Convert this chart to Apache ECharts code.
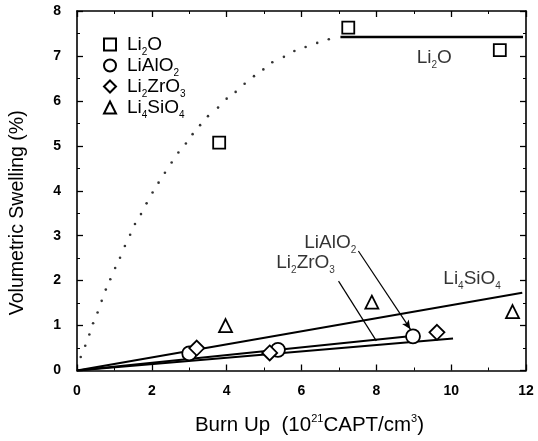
<!DOCTYPE html>
<html><head><meta charset="utf-8">
<script src="https://cdn.jsdelivr.net/npm/echarts@6/dist/echarts.min.js"></script>
<style>html,body{margin:0;padding:0;background:#fff}#c{width:538px;height:441px}</style>
</head><body><div id="c"></div>
<script>
// ---- data ----
const li2O = [[3.8, 5.07], [7.25, 7.63], [11.3, 7.13]];
const liAlO2 = [[3.0, 0.38], [5.37, 0.46], [8.98, 0.76]];
const li2ZrO3 = [[3.2, 0.5], [5.15, 0.39], [9.62, 0.85]];
const li4SiO4 = [[3.97, 1.0], [7.88, 1.52], [11.64, 1.31]];
const li2OLevel = [[7.04, 7.42], [11.92, 7.42]];
const fitLi4SiO4 = [[0, 0], [11.9, 1.73]];
const fitLiAlO2 = [[0, 0], [8.95, 0.77]];
const fitLi2ZrO3 = [[0, 0], [10.05, 0.71]];
const dottedCurve = [[0.1,0.3],[0.22,0.55],[0.33,0.8],[0.43,1.05],[0.55,1.29],[0.66,1.55],[0.77,1.8],[0.89,2.03],[1.02,2.28],[1.15,2.51],[1.28,2.77],[1.42,3.02],[1.55,3.26],[1.71,3.48],[1.86,3.72],[2.02,3.96],[2.18,4.18],[2.35,4.4],[2.53,4.63],[2.71,4.85],[2.91,5.05],[3.09,5.26],[3.29,5.46],[3.5,5.66],[3.77,5.85],[4.0,6.05],[4.24,6.2],[4.48,6.38],[4.73,6.55],[4.98,6.7],[5.22,6.86],[5.53,6.98],[5.81,7.11],[6.11,7.2],[6.42,7.29],[6.73,7.37]];
const arrowLiAlO2 = [[7.52, 2.66], [8.91, 0.92]];
const arrowLi2ZrO3 = [[6.99, 1.99], [8.0, 0.66]];
const annotations = [
  {value: [6.77, 2.86], text: 'LiAlO{sub|2}'},
  {value: [6.11, 2.41], text: 'Li{sub|2}ZrO{sub|3}'},
  {value: [10.56, 2.06], text: 'Li{sub|4}SiO{sub|4}'},
  {value: [9.55, 6.99], text: 'Li{sub|2}O'}
];
const seriesNames = ['Li2O', 'LiAlO2', 'Li2ZrO3', 'Li4SiO4'];
const legendRich = {'Li2O': 'Li{sub|2}O', 'LiAlO2': 'LiAlO{sub|2}', 'Li2ZrO3': 'Li{sub|2}ZrO{sub|3}', 'Li4SiO4': 'Li{sub|4}SiO{sub|4}'};
const xTicks = {min: 0, max: 12, interval: 2};
const yTicks = {min: 0, max: 8, interval: 1};

// ---- chart ----
const FONT = '"Liberation Sans", Arial, sans-serif';
const mkRich = (fs, lh) => ({
  n: {fontSize: fs, fontFamily: FONT, color: '#000', lineHeight: lh, verticalAlign: 'bottom'},
  sub: {fontSize: Math.round(fs * 0.55), fontFamily: FONT, color: '#000', lineHeight: lh, verticalAlign: 'bottom', padding: [0, 0, -3, 0]},
  sup: {fontSize: Math.round(fs * 0.55), fontFamily: FONT, color: '#000', lineHeight: lh, verticalAlign: 'top'},
  sp: {width: 6}
});
const richText = mkRich(19, 21);
const richLegend = mkRich(19, 18);
const richTitle = mkRich(20.5, 22.5);
function wrapRich(s) {
  return s.split(/(\{sub\|[^}]*\})/).map(p => p.startsWith('{sub') ? p : (p ? '{n|' + p + '}' : '')).join('');
}
const chart = echarts.init(document.getElementById('c'), null, {renderer: 'canvas'});
const axisCommon = {
  type: 'value',
  axisLine: {show: true, onZero: false, lineStyle: {color: '#000', width: 1.6}},
  axisTick: {show: true, inside: true, length: 6, lineStyle: {color: '#000', width: 1.3}},
  minorTick: {show: true, splitNumber: 2, length: 3, lineStyle: {color: '#000', width: 1}},
  splitLine: {show: false}
};
const hollow = (sym, size) => ({
  type: 'scatter', symbol: sym, symbolSize: size,
  itemStyle: {color: '#fff', borderColor: '#000', borderWidth: 1.8, opacity: 1}, z: 5
});
const lineS = (data, w) => ({type: 'line', data, symbol: 'none', lineStyle: {color: '#000', width: w}, silent: true, z: 3});
chart.setOption({
  animation: false,
  backgroundColor: '#fff',
  grid: {left: 76, right: 12, top: 11, bottom: 69},
  xAxis: [
    Object.assign({}, axisCommon, xTicks, {
      position: 'bottom', name: '{n|Burn Up  (10}{sup|21}{n|CAPT/cm}{sup|3}{n|)}', nameLocation: 'middle', nameGap: 43,
      nameTextStyle: {rich: richTitle, padding: [0, 0, 0, 16]},
      axisLabel: {color: '#000', fontSize: 14, fontWeight: 'bold', fontFamily: FONT, margin: 14}
    }),
    Object.assign({}, axisCommon, xTicks, {position: 'top', axisLabel: {show: false}})
  ],
  yAxis: [
    Object.assign({}, axisCommon, yTicks, {
      position: 'left', name: 'Volumetric Swelling (%)', nameLocation: 'middle', nameGap: 49,
      nameTextStyle: {fontSize: 19.5, fontFamily: FONT, color: '#000', padding: [0, 44, 0, 0]},
      axisLabel: {color: '#000', fontSize: 14, fontWeight: 'bold', fontFamily: FONT, margin: 16, padding: [8, 0, 0, 0]}
    }),
    Object.assign({}, axisCommon, yTicks, {position: 'right', axisLabel: {show: false}})
  ],
  legend: {
    data: seriesNames, orient: 'vertical', left: 98, top: 30, itemGap: -1,
    itemWidth: 12, itemHeight: 12,
    formatter: n => '{sp|}' + wrapRich(legendRich[n]),
    textStyle: {color: '#000', fontSize: 19, fontFamily: FONT, rich: richLegend}
  },
  series: [
    Object.assign(hollow('rect', 12), {name: 'Li2O', data: li2O}),
    Object.assign(hollow('circle', 14), {name: 'LiAlO2', data: liAlO2}),
    Object.assign(hollow('diamond', 15), {name: 'Li2ZrO3', data: li2ZrO3}),
    Object.assign(hollow('triangle', 13), {name: 'Li4SiO4', data: li4SiO4}),
    lineS(li2OLevel, 2.5),
    lineS(fitLi4SiO4, 2),
    lineS(fitLiAlO2, 2),
    lineS(fitLi2ZrO3, 2),
    {type: 'scatter', data: dottedCurve, symbol: 'circle', symbolSize: 2.6, itemStyle: {color: '#000'}, silent: true, z: 2},
    {type: 'line', data: [], silent: true,
      markLine: {silent: true, symbol: ['none', 'arrow'], symbolSize: [6, 9], label: {show: false},
        lineStyle: {color: '#000', width: 1.2, type: 'solid'},
        data: [
          [{coord: arrowLiAlO2[0], symbol: 'none'}, {coord: arrowLiAlO2[1], symbol: 'arrow'}],
          [{coord: arrowLi2ZrO3[0], symbol: 'none'}, {coord: arrowLi2ZrO3[1], symbol: 'none'}]
        ]}},
    {type: 'scatter', data: annotations.map(a => ({value: a.value, label: {formatter: wrapRich(a.text)}})),
      symbolSize: 1, itemStyle: {color: 'rgba(0,0,0,0)'}, silent: true, z: 6,
      label: {show: true, position: 'inside', color: '#000', fontSize: 19, fontFamily: FONT, textBorderWidth: 0, rich: richText}}
  ]
});
</script></body></html>
